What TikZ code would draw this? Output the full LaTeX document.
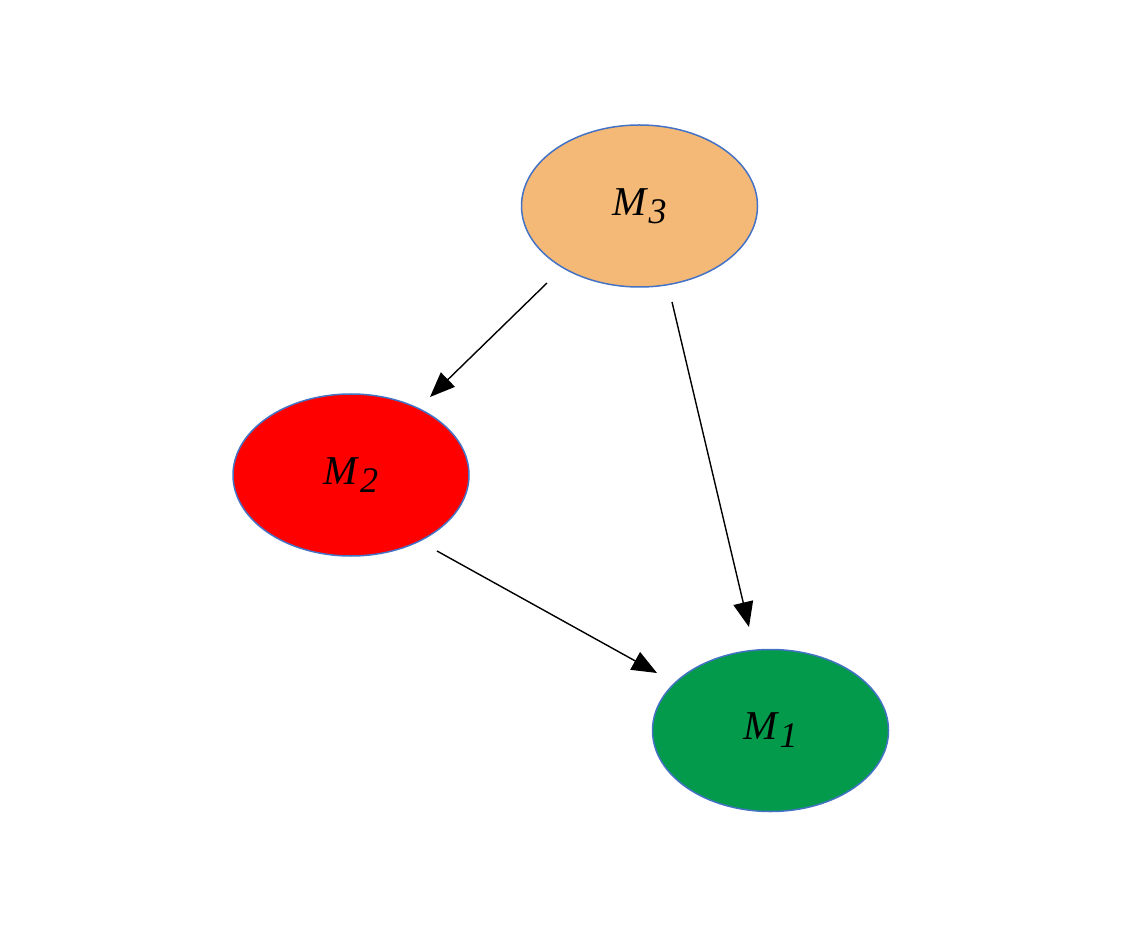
\documentclass[tikz,border=0pt]{standalone}
\usepackage{fontspec}
\setmainfont{Liberation Serif}
\usetikzlibrary{shapes.geometric,arrows.meta}
\definecolor{edgeblue}{HTML}{4472C4}
\definecolor{morange}{HTML}{F4B977}
\definecolor{mred}{HTML}{FF0000}
\definecolor{mgreen}{HTML}{039B4B}
\newcommand{\mlabel}[1]{\textit{M}\kern0.01em\raisebox{-0.42ex}{\fontsize{18pt}{20pt}\selectfont\textit{#1}}}
\begin{document}
\begin{tikzpicture}[x=0.5pt,y=-0.5pt,
  mnode/.style={ellipse,draw=edgeblue,line width=0.75pt,minimum width=118pt,minimum height=81pt,inner sep=0pt,font=\fontsize{20.5pt}{24pt}\selectfont},
  conn/.style={line width=0.7pt,-{Triangle[length=12.5pt,width=10pt]}}]
\useasboundingbox (0,0) rectangle (1128,940);
\node[mnode,fill=morange] (m3) at (639.5,206) {\raisebox{-3pt}{\mlabel{3}}};
\node[mnode,fill=mred] (m2) at (351,475) {\raisebox{-3pt}{\mlabel{2}}};
\node[mnode,fill=mgreen] (m1) at (770.5,730.5) {\raisebox{-3pt}{\mlabel{1}}};
\coordinate (a1s) at (547,283);
\coordinate (a1e) at (430,397);
\coordinate (a2s) at (672,302);
\coordinate (a2e) at (749,627);
\coordinate (a3s) at (437,551);
\coordinate (a3e) at (657,673);
\draw[conn] (a1s) -- (a1e);
\draw[conn] (a2s) -- (a2e);
\draw[conn] (a3s) -- (a3e);
\end{tikzpicture}
\end{document}
